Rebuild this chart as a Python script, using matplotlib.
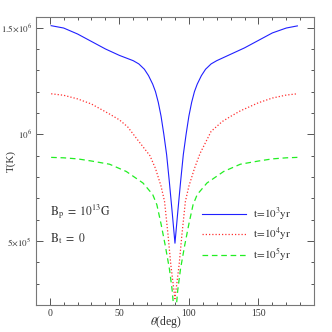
import numpy as np
import matplotlib
matplotlib.use("Agg")
import matplotlib.pyplot as plt
from matplotlib.ticker import MultipleLocator

plt.rcParams['font.family'] = ['Liberation Serif', 'DejaVu Serif']
plt.rcParams['mathtext.fontset'] = 'stix'

# temperature profiles, T in units of 1e6 K
theta_blue = [1, 10, 20, 30, 40, 50, 60, 64, 68, 71, 74, 76, 78, 80, 82, 84, 86, 88, 90,
              92, 94, 96, 98, 100, 102, 104, 106, 109, 112, 116, 120, 130, 140, 150, 160, 170, 178]
T_blue = [1.509, 1.498, 1.470, 1.435, 1.400, 1.370, 1.345, 1.330, 1.305, 1.275, 1.235,
          1.200, 1.150, 1.085, 1.000, 0.905, 0.775, 0.635, 0.490,
          0.635, 0.775, 0.905, 1.000, 1.085, 1.150, 1.200, 1.235, 1.275, 1.305, 1.330,
          1.345, 1.375, 1.405, 1.440, 1.475, 1.498, 1.508]

theta_red = [1, 10, 20, 30, 43, 50, 56, 64, 72, 76, 80, 82.5, 85, 87, 90,
             93, 95, 97.5, 100, 104, 108, 116, 124, 130, 137, 150, 160, 170, 178]
T_red = [1.190, 1.183, 1.166, 1.142, 1.095, 1.068, 1.035, 0.967, 0.900, 0.840, 0.757,
         0.686, 0.530, 0.390, 0.230,
         0.390, 0.530, 0.686, 0.757, 0.840, 0.910, 1.014, 1.060, 1.084, 1.110,
         1.148, 1.170, 1.184, 1.190]

theta_green = [1, 10, 20, 30, 43, 55, 67, 74, 77, 80, 83, 86, 88, 90,
               92, 94, 97, 100, 103, 106, 113, 125, 137, 150, 160, 170, 178]
T_green = [0.892, 0.890, 0.885, 0.875, 0.860, 0.826, 0.772, 0.718, 0.670, 0.580,
           0.480, 0.370, 0.270, 0.120,
           0.270, 0.370, 0.480, 0.580, 0.670, 0.718, 0.772, 0.826, 0.860, 0.875,
           0.885, 0.890, 0.892]

labels = [r'$\mathrm{t\!=\!10^3yr}$', r'$\mathrm{t\!=\!10^4yr}$', r'$\mathrm{t\!=\!10^5yr}$']
ytick_vals = [5e5, 1e6, 1.5e6]
ytick_labels = [r'$5{\times}10^5$', r'$10^6$', r'$1.5{\times}10^6$']
xtick_vals = [0, 50, 100, 150]

fig = plt.figure(figsize=(3.32, 3.32), dpi=100)
ax = fig.add_axes([0.108, 0.081, 0.838, 0.868])

ax.plot(theta_blue, np.array(T_blue) * 1e6, color='#2020ff', lw=0.8, ls='-', label=labels[0])
ax.plot(theta_red, np.array(T_red) * 1e6, color='#ff3030', lw=0.9, ls=(0, (1, 1.6)), label=labels[1])
ax.plot(theta_green, np.array(T_green) * 1e6, color='#22ee22', lw=0.9, ls=(0, (4.5, 3)), label=labels[2])

ax.set_xlim(-10, 190)
ax.set_ylim(2e5, 1.55e6)

ax.set_xticks(xtick_vals)
ax.set_xticklabels([str(v) for v in xtick_vals])
ax.xaxis.set_minor_locator(MultipleLocator(10))
ax.set_yticks(ytick_vals)
ax.set_yticklabels(ytick_labels)
ax.yaxis.set_minor_locator(MultipleLocator(1e5))

ax.tick_params(which='both', direction='in', top=True, right=True, colors='#555555',
               labelcolor='#333333', labelsize=7, width=0.7)
ax.tick_params(which='major', length=5)
ax.tick_params(which='minor', length=2.5)
ax.tick_params(axis='x', pad=3)
ax.tick_params(axis='y', labelsize=6.5, pad=3)
for s in ax.spines.values():
    s.set_color('#777777')
    s.set_linewidth(0.8)

ax.set_xlabel(r'$\theta$(deg)', fontsize=8.5, color='#333333', va='center')
ax.xaxis.set_label_coords(0.468, -0.058)
ax.set_ylabel('T(K)', fontsize=8, color='#333333', va='center')
ax.yaxis.set_label_coords(-0.088, 0.5)

ax.text(0.05, 0.325, r'$\mathrm{B_p\ =\ 10^{13}G}$', transform=ax.transAxes,
        fontsize=8.5, color='#333333', va='center')
ax.text(0.05, 0.23, r'$\mathrm{B_t\ =\ 0}$', transform=ax.transAxes,
        fontsize=8.5, color='#333333', va='center')

leg = ax.legend(loc='upper left', bbox_to_anchor=(0.56, 0.38), frameon=False,
                fontsize=8, handlelength=4.0, handletextpad=0.6, labelspacing=0.3)
for t in leg.get_texts():
    t.set_color('#333333')

fig.savefig('out.png', dpi=100)
